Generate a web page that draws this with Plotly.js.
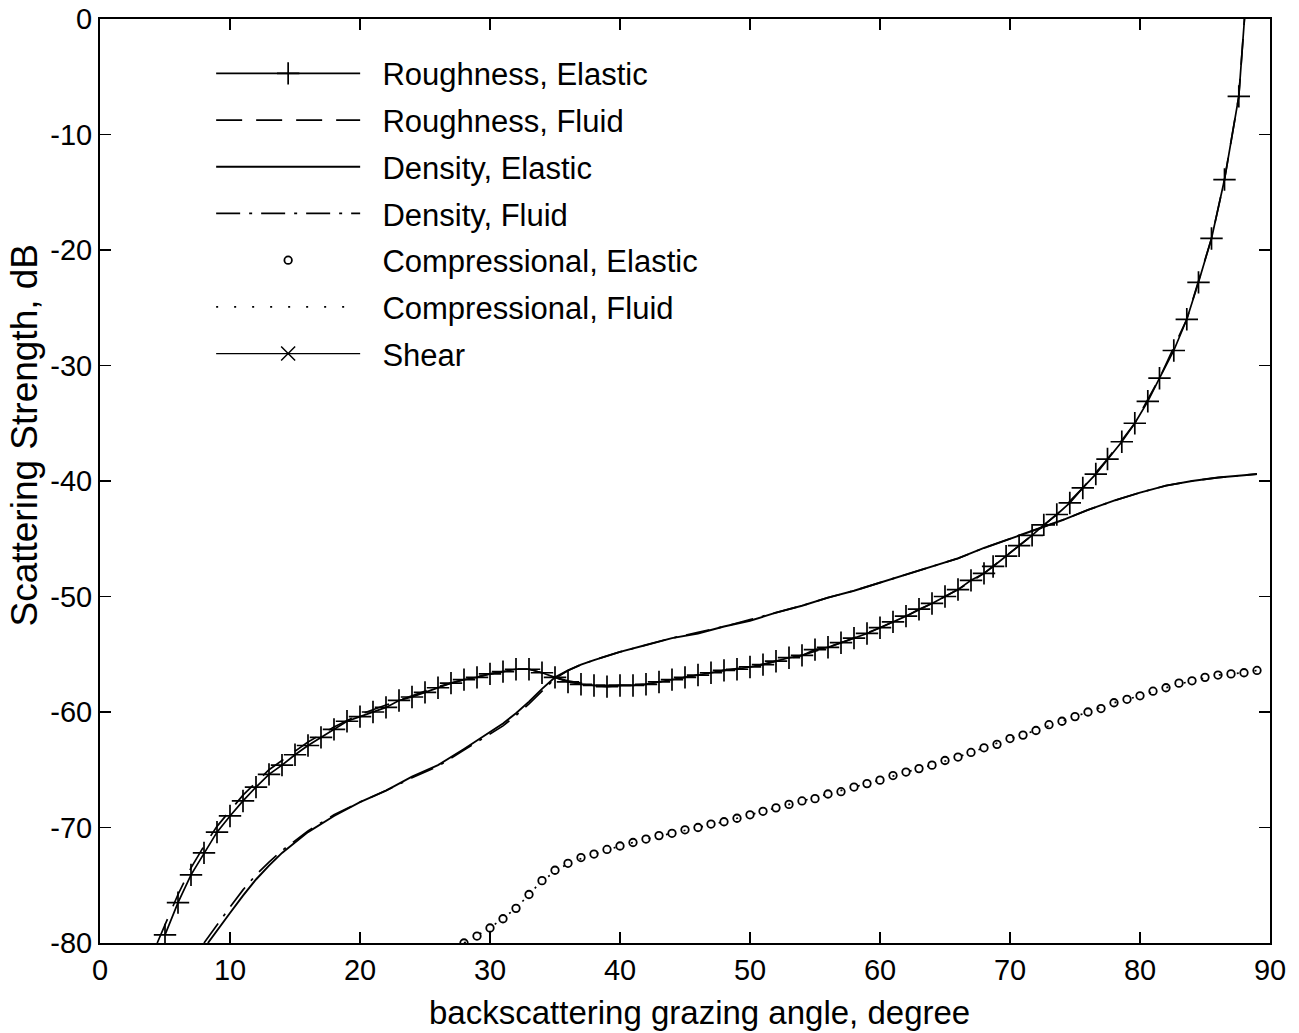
<!DOCTYPE html>
<html><head><meta charset="utf-8">
<script src="https://cdn.plot.ly/plotly-3.0.1.min.js"></script>
<style>html,body{margin:0;padding:0;background:#fff}</style>
</head><body><div id="chart" style="width:1299px;height:1033px"></div>
<script>
// ---- data ----
const seriesNames = ["Roughness, Elastic","Roughness, Fluid","Density, Elastic","Density, Fluid","Compressional, Elastic","Compressional, Fluid","Shear"];

const roughElasticX = [5,6,7,8,9,10,11,12,13,14,15,16,17,18,19,20,21,22,23,24,25,26,27,28,29,30,31,32,33,34,35,36,37,38,39,40,41,42,43,44,45,46,47,48,49,50,51,52,53,54,55,56,57,58,59,60,61,62,63,64,65,66,67,68,68.7,69.7,70.7,71.7,72.6,73.6,74.6,75.6,76.6,77.5,78.6,79.6,80.6,81.5,82.6,83.6,84.5,85.5,86.5,87.6,88.1];
const roughElasticY = [-79.3,-76.5,-74.1,-72.2,-70.4,-69.0,-67.7,-66.5,-65.4,-64.6,-63.7,-62.9,-62.2,-61.5,-60.8,-60.4,-60.0,-59.6,-59.0,-58.7,-58.3,-57.9,-57.5,-57.2,-57.0,-56.7,-56.5,-56.3,-56.3,-56.6,-57.0,-57.4,-57.6,-57.7,-57.8,-57.7,-57.7,-57.6,-57.4,-57.2,-57.0,-56.8,-56.6,-56.4,-56.3,-56.1,-55.9,-55.6,-55.3,-55.1,-54.6,-54.4,-54.0,-53.6,-53.2,-52.7,-52.2,-51.7,-51.1,-50.6,-50.0,-49.4,-48.6,-48.0,-47.4,-46.5,-45.6,-44.7,-43.8,-42.9,-41.9,-40.6,-39.4,-38.1,-36.6,-35.0,-33.1,-31.1,-28.7,-26.0,-22.8,-19.0,-13.9,-6.7,1.0];

const roughFluidX = [4.4,5,6,7,8,9,10,11,12,13,14,16,18,20,22,24,26,28,30,32,33,34,35,36,38,40,42,44,46,48,50,52,54,56,58,60,62,64,66,68,69.7,71.7,73.6,75.6,77.5,79.6,81.5,83.6,85.5,86.5,87.6,88.1];
const roughFluidY = [-80,-78.4,-75.8,-73.5,-71.6,-69.9,-68.5,-67.2,-66.1,-65.0,-64.2,-62.6,-61.3,-60.2,-59.4,-58.6,-57.8,-57.2,-56.7,-56.3,-56.3,-56.6,-57.0,-57.3,-57.7,-57.7,-57.6,-57.2,-56.8,-56.4,-56.1,-55.6,-55.1,-54.4,-53.6,-52.7,-51.7,-50.6,-49.4,-48.0,-46.5,-44.7,-42.9,-40.6,-38.1,-35.0,-31.1,-26.0,-19.0,-13.9,-6.7,1.0];

const densElasticX = [8.3,9,10,11,12,13,14,16,18,20,22,24,26,28,30,31,32,33,34,35,36,37,38,40,42,44,46,48,50,52,54,56,58,60,62,64,66,68,70,72,74,76,78,80,82,84,86,88,89];
const densElasticY = [-80,-78.9,-77.4,-75.9,-74.5,-73.3,-72.2,-70.4,-69.0,-67.8,-66.8,-65.6,-64.6,-63.2,-61.7,-61.0,-60.1,-59.1,-58.0,-57.0,-56.4,-55.9,-55.5,-54.8,-54.2,-53.6,-53.2,-52.6,-52.1,-51.4,-50.8,-50.1,-49.5,-48.8,-48.1,-47.4,-46.7,-45.8,-45.0,-44.2,-43.4,-42.5,-41.7,-41.0,-40.4,-40.0,-39.7,-39.5,-39.4];

const densFluidX = [8.0,9,10,11,12,13,14,16,18,20,22,24,26,28,30,31,32,33,34,35,36,37,38,40,42,44,46,48,50,52,54,56,58,60,62,64,66,68,70,72,74,76,78,80,82,84,86,88,89];
const densFluidY = [-80,-78.4,-76.9,-75.4,-74.1,-73.0,-72.0,-70.3,-68.9,-67.8,-66.8,-65.7,-64.7,-63.3,-61.9,-61.2,-60.3,-59.3,-58.2,-57.1,-56.4,-55.9,-55.5,-54.8,-54.2,-53.6,-53.1,-52.6,-52.0,-51.4,-50.8,-50.1,-49.5,-48.8,-48.1,-47.4,-46.7,-45.8,-45.0,-44.2,-43.4,-42.5,-41.7,-41.0,-40.4,-40.0,-39.7,-39.5,-39.4];

const compElasticX = [28,29,30,31,32,33,34,35,36,37,38,39,40,41,42,43,44,45,46,47,48,49,50,51,52,53,54,55,56,57,58,59,60,61,62,63,64,65,66,67,68,69,70,71,72,73,74,75,76,77,78,79,80,81,82,83,84,85,86,87,88,89];
const compElasticY = [-80.0,-79.4,-78.7,-77.9,-77.0,-75.8,-74.6,-73.7,-73.1,-72.6,-72.3,-71.9,-71.6,-71.3,-71.0,-70.7,-70.5,-70.2,-70.0,-69.7,-69.5,-69.2,-68.9,-68.6,-68.3,-68.0,-67.7,-67.5,-67.1,-66.9,-66.5,-66.2,-65.9,-65.5,-65.2,-64.9,-64.6,-64.2,-63.9,-63.5,-63.1,-62.8,-62.3,-62.0,-61.6,-61.1,-60.8,-60.4,-60.0,-59.7,-59.2,-58.9,-58.6,-58.2,-57.9,-57.5,-57.3,-57.0,-56.8,-56.7,-56.6,-56.4];

const compFluidX = [28,30,32,34,36,38,40,42,44,46,48,50,52,54,56,58,60,62,64,66,68,70,72,74,76,78,80,82,84,86,88,89];
const compFluidY = [-80.0,-78.7,-77.0,-74.6,-73.1,-72.3,-71.6,-71.0,-70.5,-70.0,-69.5,-68.9,-68.3,-67.7,-67.1,-66.5,-65.9,-65.2,-64.6,-63.9,-63.1,-62.3,-61.6,-60.8,-60.0,-59.2,-58.6,-57.9,-57.3,-56.8,-56.6,-56.4];

// Shear never rises into the plotted range (-80..0 dB): no visible value.
const shearX = [45];
const shearY = [null];

const xTicks = [0,10,20,30,40,50,60,70,80,90];
const yTicks = [-80,-70,-60,-50,-40,-30,-20,-10,0];

const xTitle = "backscattering grazing angle, degree";
const yTitle = "Scattering Strength, dB";

// ---- traces ----
const FONT = "Liberation Sans, Arial, Helvetica, sans-serif";
const NB = "\u00A0";
const traces = [
  {x: roughElasticX, y: roughElasticY, name: seriesNames[0], mode: "lines+markers",
   line: {color: "#000", width: 1.7}, marker: {symbol: "cross-thin-open", size: 16, line: {color: "#000", width: 1.7}}},
  {x: roughFluidX, y: roughFluidY, name: seriesNames[1], mode: "lines",
   line: {color: "#000", width: 1.7, dash: "26px,14px"}},
  {x: densElasticX, y: densElasticY, name: seriesNames[2], mode: "lines",
   line: {color: "#000", width: 1.9}},
  {x: densFluidX, y: densFluidY, name: seriesNames[3], mode: "lines",
   line: {color: "#000", width: 1.7, dash: "24px,9px,3px,9px"}},
  {x: compElasticX, y: compElasticY, name: seriesNames[4], mode: "markers",
   marker: {symbol: "circle-open", size: 7.5, color: "#000", line: {color: "#000", width: 1.8}}},
  {x: compFluidX, y: compFluidY, name: seriesNames[5], mode: "lines",
   line: {color: "#000", width: 1.7, dash: "2px,16px"}},
  {x: shearX, y: shearY, name: seriesNames[6], mode: "lines+markers",
   line: {color: "#000", width: 1.2}, marker: {symbol: "x-thin-open", size: 14, line: {color: "#000", width: 1.5}}}
];
traces.forEach((t, i) => { t.type = "scatter"; t.legendgroup = "g" + i; t.name = NB + NB + t.name; });

const axisCommon = {
  showgrid: false, zeroline: false, showline: true, linecolor: "#000", linewidth: 2,
  mirror: "ticks", ticks: "inside", ticklen: 11, tickwidth: 1.7, tickcolor: "#000",
  tickfont: {family: FONT, size: 29, color: "#000"}
};

const layout = {
  width: 1299, height: 1033,
  margin: {l: 100, r: 29, t: 19, b: 90},
  paper_bgcolor: "#fff", plot_bgcolor: "#fff",
  showlegend: true,
  legend: {x: 0.095, y: 0.970, xanchor: "left", yanchor: "top", bgcolor: "rgba(0,0,0,0)",
           font: {family: FONT, size: 31, color: "#000"}, itemwidth: 144, tracegroupgap: 3.4,
           itemclick: false, itemdoubleclick: false},
  xaxis: Object.assign({}, axisCommon, {range: [0, 90], tickvals: xTicks, ticktext: xTicks.map(String)}),
  yaxis: Object.assign({}, axisCommon, {range: [-80, 0], tickvals: yTicks, ticktext: yTicks.map(String)}),
  annotations: [
    {text: xTitle, xref: "paper", yref: "paper", x: 0.5128, y: -0.0747, xanchor: "center", yanchor: "middle",
     showarrow: false, font: {family: FONT, size: 33, color: "#000"}},
    {text: yTitle, xref: "paper", yref: "paper", x: -0.0645, y: 0.5498, xanchor: "center", yanchor: "middle",
     textangle: -90, showarrow: false, font: {family: FONT, size: 37, color: "#000"}}
  ]
};

Plotly.newPlot("chart", traces, layout, {staticPlot: true, displayModeBar: false});
</script>
</body></html>
